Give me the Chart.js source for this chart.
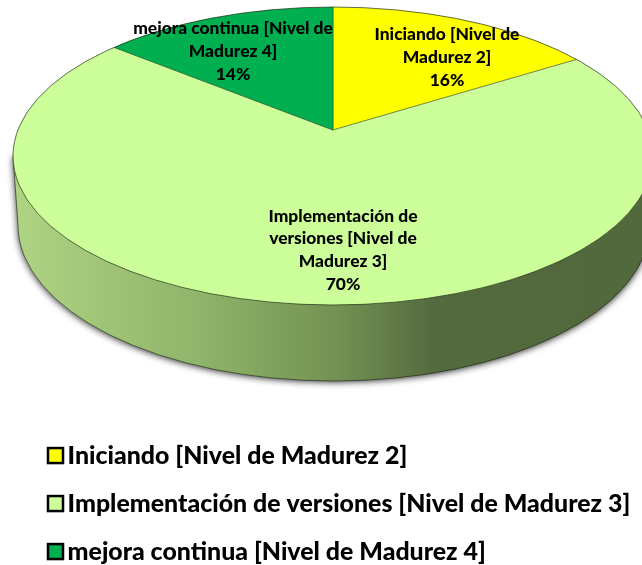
<!DOCTYPE html>
<html lang="es">
<head>
  <meta charset="UTF-8" />
  <title>Nivel de Madurez</title>
  <script src="https://cdn.jsdelivr.net/npm/chart.js"></script>
  <style>
    html, body { margin: 0; padding: 0; background: #fff; }
    #wrap { width: 642px; height: 565px; overflow: hidden; }
  </style>
</head>
<body>
  <div id="wrap"><canvas id="pie" width="642" height="574"></canvas></div>

<script>
  const categories = [
    "Iniciando [Nivel de Madurez 2]",
    "Implementación de versiones [Nivel de Madurez 3]",
    "mejora continua [Nivel de Madurez 4]"
  ];
  const shares = [16, 70, 14];
  const sliceColors = ["#FFFF00", "#CCFF99", "#00B050"];
  const labelLines = [
    ["Iniciando [Nivel de", "Madurez 2]"],
    ["Implementación de", "versiones [Nivel de", "Madurez 3]"],
    ["mejora continua [Nivel de", "Madurez 4]"]
  ];

  const FONT = "Lato, Carlito, 'Open Sans', sans-serif";

  // fake 3D: top face ellipse is not centred on the pie apex (perspective)
  const face = { cx: 333, cy: 156, rx: 320, ry: 149 };
  const apex = { x: 333, y: 130, rx: 320, ry: 146 };
  const base = { cx: 334, cy: 225, rx: 316, ry: 156 };
  const OVERSCAN = 1.4;

  // label anchors (centre x, first line y, line step)
  const labelPos = [
    { x: 447, y: 34, step: 23 },
    { x: 343, y: 216, step: 22.7 },
    { x: 233, y: 28, step: 23 }
  ];

  const fakePie3d = {
    id: "fakePie3d",
    beforeDatasetsDraw(chart) {
      const ctx = chart.ctx;
      const g = ctx.createLinearGradient(base.cx - base.rx, 0, base.cx + base.rx, 0);
      g.addColorStop(0, "#aed383");
      g.addColorStop(0.28, "#90b56b");
      g.addColorStop(0.5, "#749353");
      g.addColorStop(0.66, "#536a3f");
      g.addColorStop(1, "#52693e");
      ctx.save();
      ctx.beginPath();
      ctx.moveTo(face.cx - face.rx, face.cy);
      ctx.lineTo(base.cx - base.rx, base.cy);
      ctx.ellipse(base.cx, base.cy, base.rx, base.ry, 0, Math.PI, 0, true);
      ctx.lineTo(face.cx + face.rx, face.cy);
      ctx.closePath();
      ctx.shadowColor = "rgba(0,0,0,0.85)";
      ctx.shadowBlur = 7;
      ctx.shadowOffsetY = 1;
      ctx.fillStyle = g;
      ctx.fill();
      ctx.shadowColor = "transparent";
      ctx.strokeStyle = "rgba(20,30,10,0.7)";
      ctx.lineWidth = 0.8;
      ctx.stroke();
      ctx.restore();
    },
    beforeDatasetDraw(chart, args) {
      const ctx = chart.ctx;
      const arc = args.meta.data[0];
      const sx = apex.rx * OVERSCAN / arc.outerRadius;
      const sy = apex.ry * OVERSCAN / arc.outerRadius;
      ctx.save();
      ctx.beginPath();
      ctx.ellipse(face.cx, face.cy, face.rx, face.ry, 0, 0, Math.PI * 2);
      ctx.clip();
      ctx.translate(apex.x, apex.y);
      ctx.scale(sx, sy);
      ctx.translate(-arc.x, -arc.y);
    },
    afterDatasetDraw(chart) {
      const ctx = chart.ctx;
      ctx.restore();
      ctx.beginPath();
      ctx.ellipse(face.cx, face.cy, face.rx, face.ry, 0, 0, Math.PI * 2);
      ctx.strokeStyle = "rgba(30,40,20,0.85)";
      ctx.lineWidth = 0.8;
      ctx.stroke();
    },
    afterDatasetsDraw(chart) {
      const ctx = chart.ctx;
      ctx.save();
      ctx.fillStyle = "#000";
      ctx.font = "900 17.4px " + FONT;
      ctx.textAlign = "center";
      ctx.textBaseline = "middle";
      labelLines.forEach((lines, i) => {
        const p = labelPos[i];
        const all = lines.concat(shares[i] + "%");
        all.forEach((t, j) => ctx.fillText(t, p.x, p.y + j * p.step));
      });
      ctx.restore();
    },
    // legend boxes sit closer to the text than Chart.js allows, so draw them here
    afterDraw(chart) {
      const ctx = chart.ctx;
      ctx.save();
      chart.legend.legendHitBoxes.forEach((hit, i) => {
        const midY = hit.top + hit.height / 2;
        ctx.fillStyle = sliceColors[i];
        ctx.strokeStyle = "#000";
        ctx.lineWidth = 2.5;
        ctx.fillRect(48, midY - 7.5, 15, 15);
        ctx.strokeRect(48, midY - 7.5, 15, 15);
      });
      ctx.restore();
    }
  };

  new Chart(document.getElementById("pie"), {
    type: "pie",
    data: {
      labels: categories,
      datasets: [{
        data: shares,
        backgroundColor: sliceColors,
        borderColor: "#2b3a20",
        borderWidth: 0.3,
        clip: false
      }]
    },
    options: {
      responsive: false,
      animation: false,
      layout: { padding: { left: 27 } },
      plugins: {
        tooltip: { enabled: false },
        legend: {
          position: "bottom",
          align: "start",
          labels: {
            color: "#000",
            font: { family: FONT, size: 24.9, weight: "900" },
            boxWidth: 5,
            boxHeight: 5,
            padding: 23.1,
            generateLabels(chart) {
              return Chart.overrides.pie.plugins.legend.labels.generateLabels(chart).map(item => {
                item.fillStyle = "transparent";
                item.strokeStyle = "transparent";
                item.lineWidth = 0;
                return item;
              });
            }
          }
        }
      }
    },
    plugins: [fakePie3d]
  });
</script>
</body>
</html>
